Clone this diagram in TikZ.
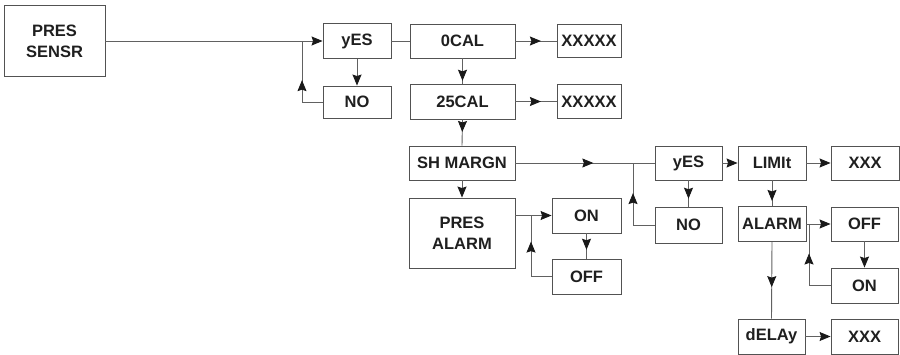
\documentclass[tikz,border=0pt]{standalone}
\usepackage{fontspec}
\setmainfont{Liberation Sans}
\usetikzlibrary{arrows.meta,decorations.markings}
\begin{document}
\begin{tikzpicture}[x=1pt,y=-1pt,
  box/.style 2 args={draw=black!68, line width=0.9pt, minimum width=#1, minimum height=#2,
    inner sep=0pt, align=center, text=black!88,
    font=\fontsize{16.5}{21}\selectfont\bfseries},
  tip/.tip={Stealth[length=11pt,width=9pt,inset=1.5pt]},
  conn/.style={draw=black!62, line width=0.9pt},
  endarr/.style={-{tip[black!90]}},
  midarr/.style={postaction={decorate},
    decoration={markings, mark=at position #1 with {\arrow{tip[black!90]}}}}]
\useasboundingbox[fill=white] (0,0) rectangle (900,355);

% nodes
\node[box={101pt}{71pt}] (ps) at (54.5,41) {PRES\\SENSR};
\node[box={68pt}{35pt}] (y1) at (357,41) {yES};
\node[box={68pt}{32pt}] (n1) at (357,102) {NO};
\node[box={105pt}{34pt}] (c0) at (462.5,41) {0CAL};
\node[box={64pt}{33pt}] (x1) at (589,41) {XXXXX};
\node[box={105pt}{35pt}] (c25) at (462.5,101.5) {25CAL};
\node[box={64pt}{34pt}] (x2) at (589,101.5) {XXXXX};
\node[box={106pt}{34pt}] (sh) at (462,163) {SH MARGN};
\node[box={106pt}{70pt}] (pa) at (462,233) {PRES\\ALARM};
\node[box={69pt}{35pt}] (on1) at (586.5,215.5) {ON};
\node[box={69pt}{35pt}] (off1) at (586.5,276.5) {OFF};
\node[box={67pt}{34pt}] (y2) at (688.5,163) {yES};
\node[box={67pt}{36pt}] (n2) at (688.5,225) {NO};
\node[box={68pt}{34pt}] (lim) at (772,163) {LIMIt};
\node[box={68pt}{34pt}] (x3) at (865,163) {XXX};
\node[box={68pt}{35pt}] (al) at (772,224) {ALARM};
\node[box={67pt}{34pt}] (off2) at (864.5,224) {OFF};
\node[box={67pt}{35pt}] (on2) at (864.5,285.5) {ON};
\node[box={67pt}{35pt}] (dl) at (771.5,336.5) {dELAy};
\node[box={67pt}{35pt}] (x4) at (864.5,336.5) {XXX};

% helper coordinates for loops
\coordinate (j1) at (302,41);
\coordinate (k1) at (302,102);
\coordinate (j2) at (633,163);
\coordinate (k2) at (633,225);
\coordinate (j3) at (531,215.5);
\coordinate (k3) at (531,276.5);
\coordinate (j4) at (809,224);
\coordinate (k4) at (809,285.5);

% connectors
\draw[conn,endarr] (ps.east) -- (y1.west);
\draw[conn,midarr=0.52] (n1.west) -- (k1) -- (j1);
\draw[conn,endarr] (y1.south) -- (n1.north);
\draw[conn] (y1.east) -- (c0.west);
\draw[conn,midarr=0.62] (c0.east) -- (x1.west);
\draw[conn,midarr=0.89] (c0.south) -- (c25.north);
\draw[conn,midarr=0.62] (c25.east) -- (x2.west);
\draw[conn,midarr=0.48] (c25.south) -- (sh.north);
\draw[conn,endarr] (sh.south) -- (pa.north);
\draw[conn,midarr=0.56] (sh.east) -- (y2.west);
\draw[conn,midarr=0.64] (n2.west) -- (k2) -- (j2);
\draw[conn,midarr=0.7] (y2.south) -- (n2.north);
\draw[conn,endarr] (y2.east) -- (lim.west);
\draw[conn,endarr] (lim.east) -- (x3.west);
\draw[conn,midarr=0.8] (lim.south) -- (al.north);
\draw[conn,endarr] (pa.east |- on1.west) -- (on1.west);
\draw[conn,midarr=0.68] (off1.west) -- (k3) -- (j3);
\draw[conn,midarr=0.65] (on1.south) -- (off1.north);
\draw[conn,endarr] (al.east) -- (off2.west);
\draw[conn,midarr=0.645] (on2.west) -- (k4) -- (j4);
\draw[conn,endarr] (off2.south) -- (on2.north);
\draw[conn,midarr=0.59] (al.south) -- (dl.north);
\draw[conn,endarr] (dl.east) -- (x4.west);
\end{tikzpicture}
\end{document}
